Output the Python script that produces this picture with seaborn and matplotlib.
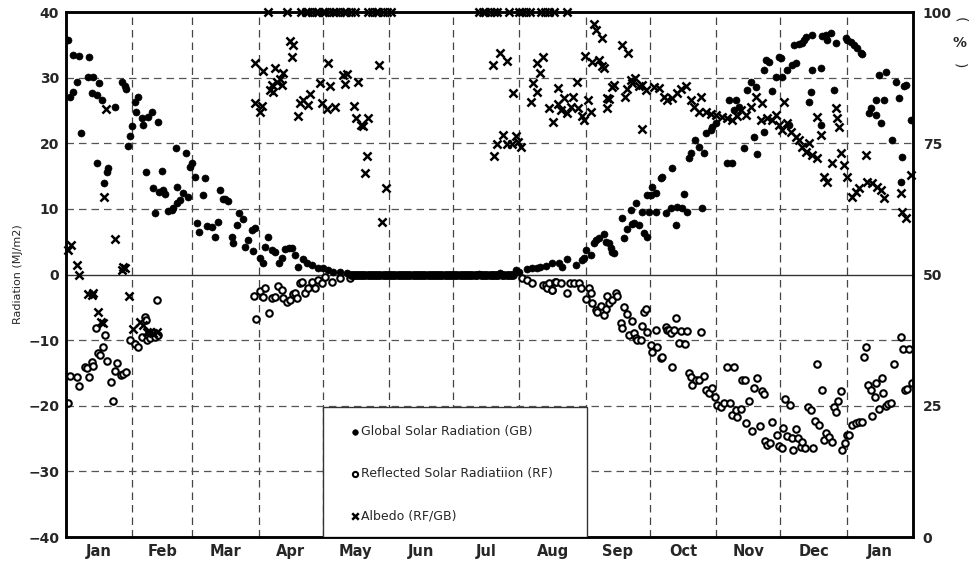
import matplotlib
matplotlib.use("Agg")
import matplotlib.pyplot as plt
from matplotlib.patches import Rectangle
import seaborn as sns
import pandas as pd
import numpy as np

# day counted from 1 Jan (first year), 13 months shown
month_edges = [0, 31, 59, 90, 120, 151, 181, 212, 243, 273, 304, 334, 365, 396]
month_labels = ["Jan", "Feb", "Mar", "Apr", "May", "Jun", "Jul", "Aug", "Sep", "Oct", "Nov", "Dec", "Jan"]

# Global solar radiation (MJ/m2)
gb_day = [0.9, 1.9, 3.3, 3.3, 5.1, 6.1, 7.0, 10.3, 10.7, 12.1, 12.6, 14.5, 14.5, 15.4, 16.8, 17.7, 19.1, 19.6,
          22.9, 26.2, 27.6, 28.0, 29.0, 29.9, 30.8, 32.2, 33.6, 32.7, 35.5, 36.0, 38.3, 40.2, 37.4, 43.0, 40.6,
          41.6, 43.4, 45.3, 46.2, 44.8, 47.6, 49.5, 50.0, 51.4, 51.8, 51.8, 53.2, 54.6, 56.0, 57.0, 57.9, 58.8,
          60.2, 61.2, 62.1, 64.0, 64.9, 65.8, 68.2, 69.6, 71.0, 71.9, 73.3, 74.3, 75.7, 77.5, 78.0, 79.9, 80.8,
          82.7, 83.6, 85.0, 86.9, 87.3, 88.3, 90.6, 92.0, 92.9, 94.3, 96.2, 97.6, 99.5, 100.9, 102.3, 104.1,
          105.5, 106.9, 108.3, 110.7, 112.5, 114.9, 117.7, 120.0, 122.4, 124.7, 128.0, 131.2,
          193.0, 203.0, 210.6, 212.0, 215.3, 218.0, 220.0, 221.4, 224.6, 227.4, 230.7, 232.0, 234.4, 238.6,
          241.4, 242.4, 243.3, 245.6, 247.0, 248.0, 249.4, 251.7, 252.6, 254.0, 255.0, 255.4, 256.4, 260.0,
          261.0, 262.5, 264.3, 264.8, 265.7, 266.7, 268.0, 269.5, 270.4, 271.8, 271.8, 273.7, 274.1, 276.0,
          272.7, 276.0, 278.3, 278.8, 280.7, 283.0, 283.5, 285.3, 285.8, 288.1, 289.0, 290.5, 291.4, 292.3,
          294.2, 296.1, 297.5, 298.4, 299.3, 301.7, 302.1, 304.0, 309.2, 311.5, 310.0, 313.4, 312.4, 314.8,
          317.0, 318.5, 320.4, 321.8, 322.7, 323.2, 326.4, 327.4, 328.8, 326.4, 330.2, 332.0, 333.4, 334.4,
          334.8, 337.2, 338.1, 339.5, 340.4, 341.4, 342.8, 344.2, 345.1, 346.0, 347.4, 348.4, 348.8, 348.8,
          353.0, 353.0, 353.5, 355.4, 355.9, 357.7, 359.1, 360.0, 364.7, 365.2, 367.0, 368.5, 369.9, 371.7,
          372.2, 375.5, 376.4, 378.7, 378.7, 380.1, 381.0, 382.5, 383.4, 386.2, 388.0, 389.5, 390.4, 390.9,
          391.8, 392.7, 395.1]
gb_val = [35.7, 27.0, 27.8, 33.4, 29.3, 33.3, 21.6, 30.1, 33.1, 27.7, 30.1, 27.4, 17.0, 29.2, 26.6, 13.9, 15.6, 16.2,
          25.5, 29.3, 28.7, 28.3, 19.6, 21.1, 22.6, 26.3, 27.0, 24.8, 23.8, 22.8, 24.0, 24.8, 15.6, 23.2, 13.2,
          9.4, 12.6, 12.9, 12.3, 15.8, 9.7, 9.8, 10.1, 19.3, 10.9, 13.3, 11.4, 12.4, 18.5, 11.8, 16.4, 17.0,
          14.9, 7.8, 6.5, 12.1, 14.7, 7.4, 7.2, 5.7, 8.0, 12.9, 11.5, 11.5, 11.2, 5.7, 4.8, 7.5, 9.4,
          8.5, 4.2, 5.3, 6.8, 3.6, 7.1, 2.5, 1.8, 4.2, 5.7, 3.7, 3.4, 1.8, 2.5, 3.9, 4.0,
          4.0, 3.0, 1.1, 2.4, 1.8, 1.5, 1.0, 1.0, 0.7, 0.4, 0.4, 0.2,
          0.1, 0.2, 0.7, 0.4, 0.9, 1.0, 1.0, 1.2, 1.3, 1.8, 1.8, 1.2, 2.4, 1.5,
          2.2, 2.5, 3.7, 3.0, 4.8, 5.3, 5.6, 6.2, 5.0, 4.8, 4.0, 3.4, 3.3, 8.6,
          5.5, 6.9, 9.8, 7.7, 7.8, 10.9, 7.5, 9.6, 6.3, 5.7, 12.1, 12.1, 13.4, 12.4,
          9.5, 9.5, 14.7, 14.9, 9.4, 10.1, 16.2, 7.6, 10.3, 10.2, 12.3, 9.5, 17.8, 18.5,
          20.5, 19.4, 10.1, 18.5, 21.6, 22.0, 22.5, 23.1, 17.0, 17.0, 26.6, 26.6, 25.1, 25.5,
          19.3, 28.1, 29.3, 21.0, 28.6, 18.4, 31.2, 32.7, 32.4, 21.7, 28.0, 30.1, 33.2, 33.0,
          30.1, 31.2, 22.8, 31.9, 35.0, 32.2, 35.1, 35.3, 35.7, 36.2, 26.3, 27.8, 36.5, 31.2,
          22.8, 31.5, 36.3, 36.5, 35.7, 36.8, 28.1, 35.3, 36.0, 35.7, 35.4, 35.0, 34.5, 33.8,
          33.6, 24.6, 25.4, 26.6, 24.3, 30.4, 23.1, 26.6, 30.9, 20.5, 29.3, 26.9, 14.1, 17.9,
          28.7, 28.9, 23.5]

# Reflected solar radiation (MJ/m2, plotted downward)
rf_day = [0.9, 1.9, 5.1, 6.1, 8.9, 9.8, 10.7, 12.1, 12.6, 14.0, 14.9, 15.9, 17.3, 18.2, 19.1, 21.0, 21.9, 22.9,
          23.8, 25.7, 26.6, 28.0, 29.9, 32.2, 33.6, 35.5, 36.9, 37.4, 37.8, 38.3, 39.2, 41.6, 42.5, 43.0,
          87.8, 88.7, 90.6, 92.0, 92.9, 94.8, 96.2, 97.6, 99.0, 100.9, 101.3, 103.2, 104.6, 106.0, 106.9, 107.9,
          109.3, 110.2, 111.6, 113.0, 114.9, 116.3, 117.7, 119.6, 121.0, 124.2, 128.0, 132.6,
          213.4, 215.3, 218.0, 222.8, 224.6, 225.1, 226.0, 227.0, 227.4, 228.4, 229.3, 231.6, 234.4, 235.4,
          237.7, 240.0, 241.0, 243.3, 244.7, 245.6, 246.1, 248.0, 248.4, 250.3, 251.7, 252.6, 253.1, 254.0,
          255.4, 257.3, 257.8, 259.7, 260.1, 261.0, 262.5, 263.4, 264.8, 265.7, 266.7, 267.1, 268.9, 269.4,
          270.4, 271.3, 271.8, 273.7, 274.1, 276.0, 276.5, 278.3, 278.8, 280.7, 281.1, 282.1, 283.0, 283.5,
          284.4, 285.3, 286.7, 287.7, 289.5, 290.5, 291.4, 292.3, 292.8, 294.7, 296.1, 297.0, 298.4, 299.3,
          300.7, 302.1, 303.6, 304.5, 306.4, 307.8, 309.2, 310.6, 311.5, 312.4, 313.4, 313.8, 315.7, 316.2,
          317.6, 318.0, 319.4, 320.8, 321.8, 323.2, 324.6, 325.5, 326.4, 326.9, 327.8, 329.2, 330.2, 332.5,
          333.4, 334.8, 335.3, 336.2, 337.2, 338.6, 339.5, 340.0, 341.4, 342.3, 343.7, 344.2, 345.6, 347.0,
          348.4, 349.3, 350.3, 351.2, 352.1, 353.5, 354.5, 355.4, 356.8, 358.2, 359.1, 360.0, 361.0, 362.4,
          362.9, 364.3, 365.2, 366.1, 367.5, 369.4, 370.8, 372.2, 373.1, 374.1, 375.0, 376.4, 376.9, 378.3,
          378.7, 380.1, 381.5, 382.0, 383.4, 384.3, 385.7, 387.1, 390.4, 391.3, 392.3, 393.2, 394.1, 395.5]
rf_val = [-19.6, -15.5, -15.6, -17.0, -14.1, -14.3, -15.6, -13.3, -14.0, -8.2, -12.0, -12.3, -11.1, -9.2, -13.2,
          -16.4, -19.3, -14.7, -13.5, -15.3, -15.2, -14.8, -10.0, -10.6, -11.1, -9.5, -6.5, -7.0, -10.0, -9.2,
          -9.7, -9.5, -3.9, -9.2,
          -3.3, -6.8, -2.5, -3.5, -2.0, -5.9, -3.6, -3.4, -1.8, -2.4, -3.6, -4.2, -3.9, -2.9, -2.8, -3.6,
          -1.3, -1.1, -2.8, -2.0, -1.1, -2.0, -0.8, -1.3, -0.4, -1.1, -0.6, -0.5,
          -0.5, -0.8, -1.3, -1.6, -1.6, -2.1, -1.3, -2.4, -2.4, -1.1, -1.1, -1.3, -2.8, -1.3,
          -1.3, -1.3, -2.1, -3.7, -2.1, -2.8, -4.3, -5.4, -5.7, -4.8, -6.2, -5.3, -3.3, -4.3,
          -3.9, -2.8, -3.2, -7.4, -8.2, -5.0, -6.0, -9.2, -7.1, -8.9, -9.7, -10.0, -10.0, -7.9,
          -5.7, -5.2, -8.8, -10.7, -11.8, -8.5, -11.0, -12.7, -12.6, -8.0, -8.4, -8.4, -8.9, -14.1,
          -8.5, -6.6, -10.5, -8.6, -10.6, -8.6, -15.0, -15.6, -16.9, -16.1, -16.1, -8.8, -15.5, -17.6,
          -18.1, -17.3, -18.7, -19.9, -20.2, -19.6, -14.1, -19.6, -21.4, -14.1, -20.6, -21.7, -20.5, -16.1,
          -16.1, -22.6, -19.3, -23.9, -17.3, -15.8, -23.1, -17.7, -18.2, -25.4, -26.0, -25.7, -22.5, -24.5,
          -26.1, -26.5, -23.4, -19.0, -24.6, -19.9, -24.9, -26.8, -23.6, -24.9, -26.3, -25.5, -26.5, -20.2,
          -20.6, -26.5, -22.3, -13.6, -22.9, -17.6, -25.2, -24.2, -24.8, -25.5, -20.2, -20.9, -19.3, -17.8,
          -26.8, -25.7, -24.5, -24.5, -22.9, -22.6, -22.5, -22.5, -12.6, -11.0, -16.8, -17.6, -21.5, -18.7,
          -16.5, -20.5, -15.8, -18.1, -20.0, -19.7, -19.6, -13.6, -9.5, -11.4, -17.6, -17.5, -11.4, -16.5]

# polar night: both radiations read as zero on these days
night_day = [133, 134, 135, 136, 137, 138, 139, 140, 141, 142, 143, 144, 145, 146, 147, 148, 149, 150, 151, 152,
             153, 154, 155, 156, 157, 158, 159, 160, 161, 162, 163, 164, 165, 166, 167, 168, 169, 170, 171, 172,
             173, 174, 175, 176, 177, 178, 179, 180, 181, 182, 183, 184, 185, 186, 187, 188, 189, 190, 191, 192,
             194, 195, 196, 197, 198, 199, 200, 201, 202, 204, 205, 206, 207, 208, 209]
night_val = [0.0] * len(night_day)

# Albedo (%)
alb_day = [0.9, 2.3, 5.1, 6.1, 10.3, 12.1, 12.6, 14.9, 16.3, 17.3, 17.7, 18.7, 22.9, 26.2, 26.6, 27.6, 29.4,
           31.3, 34.6, 36.0, 37.8, 39.2, 40.6, 42.5,
           88.3, 88.3, 90.6, 91.5, 92.0, 94.3, 95.3, 96.2, 96.7, 97.6, 98.6, 99.9, 100.9, 101.3, 103.2, 104.6,
           105.5, 106.0, 108.3, 109.3, 110.7, 113.0, 114.0, 118.6, 119.6, 121.9, 122.4, 123.3, 125.6, 129.4,
           131.2, 130.3, 134.5, 135.4, 136.4, 137.8, 138.7, 139.6, 140.6, 141.0, 146.2, 147.6, 149.4,
           110, 112, 113, 115, 117, 118, 120, 121, 123, 125, 126, 128, 130, 131, 133, 135,
           141, 143, 145, 146, 148, 150, 152,
           193, 195, 196, 198, 200, 201.7, 207.3, 212, 213, 215, 217, 222, 224, 226, 228, 234.4,
           199.4, 200.3, 201.7, 203.1, 204.1, 206.0, 206.4, 208.3, 209.2, 210.2, 211.1, 212.5, 217.2, 218.1,
           220.0, 220.4, 221.4, 222.8, 226.0, 227.9, 229.8, 230.2, 231.6, 233.0, 234.4, 236.3, 237.2, 239.1,
           239.6, 241.4, 242.4, 242.8, 244.2, 245.6, 246.1, 247.0, 248.0, 249.4, 250.8, 250.8, 251.7, 253.1,
           253.1, 254.0, 255.4, 256.4, 260.1, 261.5, 262.5, 262.9, 264.3, 264.8, 266.2, 268.0, 269.5, 269.5,
           271.3, 275.1, 277.4, 279.7, 281.1, 283.5, 285.8, 287.7, 290.0, 292.3, 293.7, 296.1, 297.0, 299.3,
           301.7, 304.0, 306.8, 309.2, 311.5, 313.8, 315.7, 318.0, 320.4, 322.7, 325.0, 325.5, 327.8, 330.2,
           332.0, 333.4, 334.8, 335.8, 337.2, 339.0, 341.4, 342.8, 344.2, 346.0, 347.4, 348.8, 351.2, 351.2,
           353.0, 354.5, 355.9, 358.2, 360.0, 360.5, 361.4, 362.4, 363.8, 365.2, 367.5, 369.4, 370.8, 374.1,
           374.5, 376.9, 379.2, 381.0, 382.5, 390.4, 390.9, 392.7, 395.1]
alb_val = [54.7, 55.6, 51.8, 49.9, 46.3, 46.1, 46.5, 42.9, 41.0, 40.8, 64.8, 81.5, 56.8, 50.9, 51.4, 51.2, 45.9,
           39.6, 41.0, 40.4, 39.0, 39.0, 38.9, 39.0,
           90.3, 82.7, 81.0, 82.1, 88.8, 100, 85.1, 86.1, 84.8, 89.3, 86.7, 87.2, 86.1, 88.4, 100, 94.5,
           91.4, 93.7, 80.2, 82.7, 83.2, 82.3, 84.4, 86.5, 82.7, 81.5, 90.3, 85.9, 81.9, 88.0,
           88.2, 86.3, 82.1, 79.8, 86.7, 78.5, 78.3, 69.3, 72.6, 79.8, 89.9, 60.0, 66.5,
           100, 100, 100, 100, 100, 100, 100, 100, 100, 100, 100, 100, 100, 100, 100, 100,
           100, 100, 100, 100, 100, 100, 100,
           100, 100, 100, 100, 100, 100, 100, 100, 100, 100, 100, 100, 100, 100, 100, 100,
           89.9, 72.6, 74.9, 92.2, 76.6, 74.9, 90.7, 74.9, 84.6, 76.4, 75.2, 74.3, 82.9, 86.5,
           90.3, 84.8, 88.4, 91.4, 81.7, 79.0, 82.5, 85.5, 81.3, 83.6, 80.8, 81.9, 83.8, 86.7,
           81.7, 80.2, 79.4, 91.6, 83.2, 81.0, 90.5, 97.7, 96.6, 90.9, 95.1, 89.7, 89.3, 81.7,
           83.6, 83.4, 85.7, 86.1, 93.7, 83.8, 85.3, 92.2, 87.0, 86.5, 87.4, 85.9, 77.7, 86.1,
           85.1, 85.7, 85.5, 83.8, 83.2, 83.6, 84.6, 85.3, 85.9, 83.2, 81.9, 81.0, 83.8, 81.0,
           80.6, 80.4, 80.0, 79.8, 79.4, 80.2, 81.3, 80.4, 81.9, 83.8, 79.4, 82.7, 79.8, 79.4,
           80.4, 78.5, 77.5, 82.9, 78.9, 77.1, 76.2, 75.6, 74.3, 73.3, 75.1, 72.8, 72.2, 80.0,
           76.6, 68.6, 67.6, 71.2, 81.7, 79.8, 78.1, 73.1, 70.9, 68.6, 64.8, 65.7, 66.5, 72.8,
           67.6, 67.4, 66.7, 66.1, 64.6, 65.5, 61.9, 60.8, 69.0]

gb = pd.DataFrame({"day": gb_day + night_day, "val": gb_val + night_val})
rf = pd.DataFrame({"day": rf_day + night_day, "val": rf_val + night_val})
alb = pd.DataFrame({"day": alb_day, "val": alb_val})

sns.set_style("white")
plt.rcParams["font.family"] = ["DejaVu Sans"]

fig = plt.figure(figsize=(9.77, 5.69), dpi=100)
ax = fig.add_axes([0.0676, 0.0562, 0.8669, 0.9227])

# grid
for d in month_edges[1:-1]:
    ax.axvline(d, color="#444444", linestyle=(0, (6, 4)), linewidth=0.9, zorder=0)
for v in [-30, -20, -10, 10, 20, 30]:
    ax.axhline(v, color="#555555", linestyle=(0, (6, 4)), linewidth=0.9, zorder=0)
ax.axhline(0, color="#333333", linewidth=1.0, zorder=0)

sns.scatterplot(data=gb, x="day", y="val", ax=ax, marker="o", color="black", s=26,
                edgecolor="black", linewidth=0.4, zorder=3, label="Global Solar Radiation (GB)")
sns.scatterplot(data=rf, x="day", y="val", ax=ax, marker="o", facecolor="white", s=22,
                edgecolor="black", linewidth=1.5, zorder=2, label="Reflected Solar Radiatiion (RF)")

ax.set_xlim(month_edges[0], month_edges[-1])
ax.set_ylim(-40, 40)
ax.set_yticks(range(-40, 41, 10))
mids = [(a + b) / 2 for a, b in zip(month_edges[:-1], month_edges[1:])]
ax.set_xticks(mids)
ax.set_xticklabels(month_labels, fontsize=10.5, fontweight="bold")
ax.tick_params(axis="both", length=0, pad=5)
for t in ax.get_yticklabels():
    t.set_fontweight("bold")
    t.set_fontsize(10)
ax.set_xlabel("")
ax.set_ylabel("Radiation (MJ/m2)", fontsize=8)
ax.get_legend().remove()

ax2 = ax.twinx()
sns.scatterplot(data=alb, x="day", y="val", ax=ax2, marker="x", color="black", s=34,
                linewidth=1.8, zorder=4, clip_on=False, label="Albedo (RF/GB)")
ax2.set_ylim(0, 100)
ax2.set_yticks([0, 25, 50, 75, 100])
ax2.tick_params(axis="y", length=0, pad=7)
for t in ax2.get_yticklabels():
    t.set_fontweight("bold")
    t.set_fontsize(10)
ax2.set_ylabel("")
ax2.get_legend().remove()

for a in (ax, ax2):
    for sp in a.spines.values():
        sp.set_color("black")
        sp.set_linewidth(1.8)

# legend box
box = Rectangle((0.303, 0.0), 0.312, 0.248, transform=ax2.transAxes, facecolor="white",
                edgecolor="#333333", linewidth=1.0, zorder=10)
ax2.add_patch(box)
h1, l1 = ax.get_legend_handles_labels()
h2, l2 = ax2.get_legend_handles_labels()
leg = ax2.legend(h1 + h2, l1 + l2, loc="upper left", bbox_to_anchor=(0.32, 0.235), frameon=False,
                 fontsize=9, handletextpad=0.0, labelspacing=2.35, handlelength=1.0, markerscale=0.8)
leg.set_zorder(11)

# vertical (%) label
fig.text(0.9825, 0.965, "(", rotation=-90, ha="center", va="center", fontsize=10)
fig.text(0.9825, 0.925, "%", ha="center", va="center", fontsize=10, fontweight="bold")
fig.text(0.9825, 0.885, ")", rotation=-90, ha="center", va="center", fontsize=10)

fig.savefig("out.png", dpi=100)
